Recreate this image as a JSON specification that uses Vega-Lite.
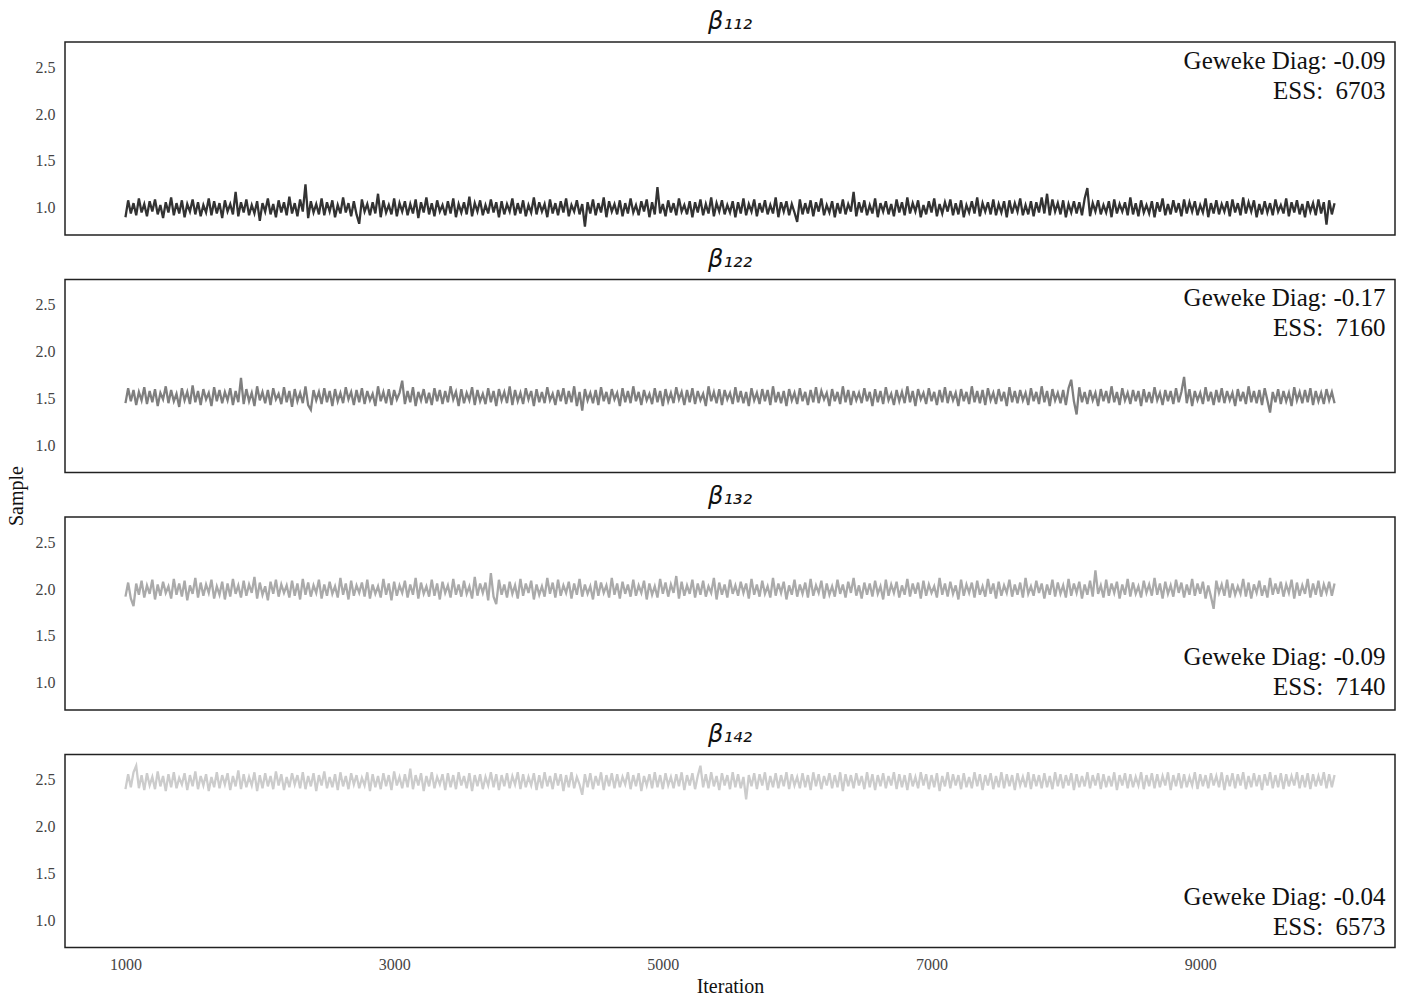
{
"$schema": "https://vega.github.io/schema/vega-lite/v6.json",
"padding": {"left": 5, "right": 8, "top": 9, "bottom": 2},
"background": "white",
"bounds": "flush",
"spacing": 44.5,
"config": {
  "view": {"stroke": "#222", "strokeWidth": 1.5},
  "font": "Liberation Serif",
  "axis": {"grid": false, "ticks": false, "domain": false, "labelFont": "Liberation Serif", "labelFontSize": 16, "labelColor": "#444", "titleFont": "Liberation Serif", "titleFontSize": 20, "titleFontWeight": "normal", "titleColor": "#111"},
  "title": {"font": "DejaVu Sans", "fontSize": 24, "fontStyle": "italic", "fontWeight": "normal", "color": "#111", "offset": 8}
},
"datasets": {
"ann": [
{"panel":1,"x":10380,"y":2.57,"label":"Geweke Diag: -0.09"},
{"panel":1,"x":10380,"y":2.25,"label":"ESS: \u00a06703"},
{"panel":2,"x":10380,"y":2.57,"label":"Geweke Diag: -0.17"},
{"panel":2,"x":10380,"y":2.25,"label":"ESS: \u00a07160"},
{"panel":3,"x":10380,"y":1.28,"label":"Geweke Diag: -0.09"},
{"panel":3,"x":10380,"y":0.96,"label":"ESS: \u00a07140"},
{"panel":4,"x":10380,"y":1.25,"label":"Geweke Diag: -0.04"},
{"panel":4,"x":10380,"y":0.93,"label":"ESS: \u00a06573"}
],
"trace": [
{"x":1000,"a":0.90,"b":1.45,"c":1.92,"d":2.40},
{"x":1020,"a":1.08,"b":1.61,"c":2.07,"d":2.56},
{"x":1040,"a":0.94,"b":1.47,"c":1.90,"d":2.42},
{"x":1060,"a":1.05,"b":1.59,"c":1.82,"d":2.58},
{"x":1080,"a":0.92,"b":1.43,"c":2.06,"d":2.65},
{"x":1100,"a":1.10,"b":1.57,"c":1.94,"d":2.41},
{"x":1120,"a":0.95,"b":1.48,"c":2.09,"d":2.55},
{"x":1140,"a":1.04,"b":1.62,"c":1.91,"d":2.39},
{"x":1160,"a":0.91,"b":1.44,"c":2.04,"d":2.57},
{"x":1180,"a":1.07,"b":1.58,"c":1.95,"d":2.44},
{"x":1200,"a":0.96,"b":1.46,"c":2.10,"d":2.53},
{"x":1220,"a":1.09,"b":1.60,"c":1.89,"d":2.40},
{"x":1240,"a":0.93,"b":1.42,"c":2.05,"d":2.59},
{"x":1260,"a":1.03,"b":1.56,"c":1.93,"d":2.43},
{"x":1280,"a":0.89,"b":1.49,"c":2.08,"d":2.54},
{"x":1300,"a":1.06,"b":1.63,"c":1.96,"d":2.38},
{"x":1320,"a":0.95,"b":1.45,"c":2.03,"d":2.56},
{"x":1340,"a":1.11,"b":1.59,"c":1.90,"d":2.42},
{"x":1360,"a":0.92,"b":1.47,"c":2.11,"d":2.58},
{"x":1380,"a":1.05,"b":1.55,"c":1.94,"d":2.41},
{"x":1400,"a":0.94,"b":1.41,"c":2.06,"d":2.52},
{"x":1420,"a":1.08,"b":1.61,"c":1.92,"d":2.45},
{"x":1440,"a":0.90,"b":1.48,"c":2.09,"d":2.57},
{"x":1460,"a":1.04,"b":1.57,"c":1.88,"d":2.39},
{"x":1480,"a":0.96,"b":1.44,"c":2.04,"d":2.55},
{"x":1500,"a":1.09,"b":1.64,"c":1.95,"d":2.43},
{"x":1520,"a":0.93,"b":1.46,"c":2.12,"d":2.59},
{"x":1540,"a":1.06,"b":1.58,"c":1.91,"d":2.40},
{"x":1560,"a":0.91,"b":1.43,"c":2.07,"d":2.54},
{"x":1580,"a":1.03,"b":1.60,"c":1.93,"d":2.44},
{"x":1600,"a":0.95,"b":1.49,"c":2.05,"d":2.56},
{"x":1620,"a":1.10,"b":1.56,"c":1.96,"d":2.38},
{"x":1640,"a":0.92,"b":1.42,"c":2.10,"d":2.53},
{"x":1660,"a":1.07,"b":1.62,"c":1.90,"d":2.42},
{"x":1680,"a":0.94,"b":1.47,"c":2.03,"d":2.58},
{"x":1700,"a":1.05,"b":1.59,"c":1.94,"d":2.41},
{"x":1720,"a":0.89,"b":1.45,"c":2.08,"d":2.55},
{"x":1740,"a":1.08,"b":1.57,"c":1.89,"d":2.45},
{"x":1760,"a":0.96,"b":1.48,"c":2.06,"d":2.57},
{"x":1780,"a":1.04,"b":1.61,"c":1.92,"d":2.39},
{"x":1800,"a":0.93,"b":1.43,"c":2.11,"d":2.54},
{"x":1820,"a":1.17,"b":1.58,"c":1.95,"d":2.43},
{"x":1840,"a":0.91,"b":1.46,"c":2.04,"d":2.60},
{"x":1860,"a":1.06,"b":1.72,"c":1.91,"d":2.40},
{"x":1880,"a":0.95,"b":1.44,"c":2.09,"d":2.56},
{"x":1900,"a":1.09,"b":1.60,"c":1.93,"d":2.42},
{"x":1920,"a":0.92,"b":1.47,"c":2.05,"d":2.53},
{"x":1940,"a":1.03,"b":1.56,"c":1.96,"d":2.44},
{"x":1960,"a":0.94,"b":1.42,"c":2.13,"d":2.58},
{"x":1980,"a":1.07,"b":1.63,"c":1.90,"d":2.38},
{"x":2000,"a":0.86,"b":1.48,"c":2.07,"d":2.55},
{"x":2020,"a":1.05,"b":1.57,"c":1.94,"d":2.41},
{"x":2040,"a":0.96,"b":1.45,"c":2.03,"d":2.57},
{"x":2060,"a":1.10,"b":1.59,"c":1.88,"d":2.43},
{"x":2080,"a":0.93,"b":1.43,"c":2.08,"d":2.54},
{"x":2100,"a":1.04,"b":1.61,"c":1.95,"d":2.40},
{"x":2120,"a":0.90,"b":1.49,"c":2.10,"d":2.59},
{"x":2140,"a":1.08,"b":1.55,"c":1.92,"d":2.44},
{"x":2160,"a":0.95,"b":1.44,"c":2.05,"d":2.56},
{"x":2180,"a":1.06,"b":1.62,"c":1.96,"d":2.39},
{"x":2200,"a":0.92,"b":1.46,"c":2.04,"d":2.53},
{"x":2220,"a":1.12,"b":1.58,"c":1.91,"d":2.42},
{"x":2240,"a":0.94,"b":1.41,"c":2.09,"d":2.57},
{"x":2260,"a":1.05,"b":1.60,"c":1.93,"d":2.45},
{"x":2280,"a":0.91,"b":1.47,"c":2.06,"d":2.55},
{"x":2300,"a":1.09,"b":1.56,"c":1.89,"d":2.41},
{"x":2320,"a":0.96,"b":1.45,"c":2.11,"d":2.58},
{"x":2340,"a":1.25,"b":1.63,"c":1.94,"d":2.40},
{"x":2360,"a":0.89,"b":1.43,"c":2.07,"d":2.54},
{"x":2380,"a":1.07,"b":1.38,"c":1.92,"d":2.43},
{"x":2400,"a":0.95,"b":1.59,"c":2.04,"d":2.57},
{"x":2420,"a":1.04,"b":1.48,"c":1.96,"d":2.38},
{"x":2440,"a":0.93,"b":1.57,"c":2.10,"d":2.55},
{"x":2460,"a":1.10,"b":1.44,"c":1.90,"d":2.44},
{"x":2480,"a":0.92,"b":1.61,"c":2.05,"d":2.59},
{"x":2500,"a":1.06,"b":1.46,"c":1.93,"d":2.41},
{"x":2520,"a":0.96,"b":1.58,"c":2.08,"d":2.53},
{"x":2540,"a":1.08,"b":1.42,"c":1.95,"d":2.42},
{"x":2560,"a":0.90,"b":1.60,"c":2.03,"d":2.56},
{"x":2580,"a":1.03,"b":1.47,"c":1.91,"d":2.39},
{"x":2600,"a":0.94,"b":1.56,"c":2.12,"d":2.58},
{"x":2620,"a":1.11,"b":1.45,"c":1.94,"d":2.43},
{"x":2640,"a":0.95,"b":1.62,"c":2.06,"d":2.54},
{"x":2660,"a":1.05,"b":1.49,"c":1.89,"d":2.40},
{"x":2680,"a":0.91,"b":1.57,"c":2.09,"d":2.57},
{"x":2700,"a":1.07,"b":1.43,"c":1.93,"d":2.45},
{"x":2720,"a":0.93,"b":1.59,"c":2.04,"d":2.55},
{"x":2740,"a":0.83,"b":1.46,"c":1.96,"d":2.41},
{"x":2760,"a":1.09,"b":1.61,"c":2.07,"d":2.52},
{"x":2780,"a":0.96,"b":1.44,"c":1.92,"d":2.44},
{"x":2800,"a":1.04,"b":1.58,"c":2.10,"d":2.58},
{"x":2820,"a":0.92,"b":1.48,"c":1.90,"d":2.38},
{"x":2840,"a":1.06,"b":1.55,"c":2.05,"d":2.56},
{"x":2860,"a":0.94,"b":1.42,"c":1.95,"d":2.42},
{"x":2880,"a":1.15,"b":1.63,"c":2.03,"d":2.54},
{"x":2900,"a":0.90,"b":1.47,"c":1.91,"d":2.40},
{"x":2920,"a":1.08,"b":1.57,"c":2.11,"d":2.57},
{"x":2940,"a":0.95,"b":1.45,"c":1.94,"d":2.43},
{"x":2960,"a":1.03,"b":1.60,"c":2.06,"d":2.55},
{"x":2980,"a":0.93,"b":1.43,"c":1.88,"d":2.39},
{"x":3000,"a":1.10,"b":1.59,"c":2.08,"d":2.59},
{"x":3020,"a":0.91,"b":1.49,"c":1.93,"d":2.44},
{"x":3040,"a":1.05,"b":1.56,"c":2.04,"d":2.53},
{"x":3060,"a":0.96,"b":1.69,"c":1.96,"d":2.41},
{"x":3080,"a":1.07,"b":1.44,"c":2.09,"d":2.56},
{"x":3100,"a":0.92,"b":1.58,"c":1.91,"d":2.42},
{"x":3120,"a":1.04,"b":1.46,"c":2.05,"d":2.62},
{"x":3140,"a":0.94,"b":1.62,"c":1.94,"d":2.40},
{"x":3160,"a":1.09,"b":1.42,"c":2.12,"d":2.55},
{"x":3180,"a":0.89,"b":1.57,"c":1.90,"d":2.44},
{"x":3200,"a":1.06,"b":1.48,"c":2.07,"d":2.57},
{"x":3220,"a":0.95,"b":1.60,"c":1.95,"d":2.38},
{"x":3240,"a":1.11,"b":1.45,"c":2.03,"d":2.54},
{"x":3260,"a":0.93,"b":1.56,"c":1.92,"d":2.43},
{"x":3280,"a":1.05,"b":1.43,"c":2.10,"d":2.58},
{"x":3300,"a":0.91,"b":1.61,"c":1.93,"d":2.41},
{"x":3320,"a":1.08,"b":1.47,"c":2.06,"d":2.53},
{"x":3340,"a":0.96,"b":1.59,"c":1.89,"d":2.45},
{"x":3360,"a":1.03,"b":1.44,"c":2.08,"d":2.56},
{"x":3380,"a":0.92,"b":1.58,"c":1.96,"d":2.39},
{"x":3400,"a":1.07,"b":1.46,"c":2.04,"d":2.57},
{"x":3420,"a":0.94,"b":1.63,"c":1.91,"d":2.42},
{"x":3440,"a":1.10,"b":1.49,"c":2.11,"d":2.55},
{"x":3460,"a":0.90,"b":1.57,"c":1.94,"d":2.40},
{"x":3480,"a":1.04,"b":1.42,"c":2.05,"d":2.58},
{"x":3500,"a":0.95,"b":1.60,"c":1.92,"d":2.44},
{"x":3520,"a":1.06,"b":1.45,"c":2.09,"d":2.54},
{"x":3540,"a":0.93,"b":1.56,"c":1.95,"d":2.41},
{"x":3560,"a":1.12,"b":1.48,"c":2.03,"d":2.57},
{"x":3580,"a":0.91,"b":1.62,"c":1.90,"d":2.38},
{"x":3600,"a":1.05,"b":1.43,"c":2.13,"d":2.55},
{"x":3620,"a":0.96,"b":1.59,"c":1.93,"d":2.43},
{"x":3640,"a":1.08,"b":1.47,"c":2.06,"d":2.56},
{"x":3660,"a":0.92,"b":1.55,"c":1.96,"d":2.40},
{"x":3680,"a":1.03,"b":1.44,"c":2.07,"d":2.53},
{"x":3700,"a":0.94,"b":1.61,"c":1.88,"d":2.44},
{"x":3720,"a":1.09,"b":1.46,"c":2.17,"d":2.58},
{"x":3740,"a":0.95,"b":1.58,"c":1.92,"d":2.42},
{"x":3760,"a":1.06,"b":1.42,"c":1.84,"d":2.56},
{"x":3780,"a":0.90,"b":1.60,"c":2.10,"d":2.39},
{"x":3800,"a":1.07,"b":1.48,"c":1.94,"d":2.55},
{"x":3820,"a":0.93,"b":1.57,"c":2.05,"d":2.43},
{"x":3840,"a":1.04,"b":1.45,"c":1.91,"d":2.57},
{"x":3860,"a":0.96,"b":1.63,"c":2.08,"d":2.41},
{"x":3880,"a":1.10,"b":1.43,"c":1.95,"d":2.54},
{"x":3900,"a":0.92,"b":1.59,"c":2.04,"d":2.45},
{"x":3920,"a":1.05,"b":1.47,"c":1.90,"d":2.58},
{"x":3940,"a":0.94,"b":1.56,"c":2.11,"d":2.40},
{"x":3960,"a":1.08,"b":1.44,"c":1.93,"d":2.56},
{"x":3980,"a":0.91,"b":1.61,"c":2.06,"d":2.42},
{"x":4000,"a":1.03,"b":1.49,"c":1.96,"d":2.53},
{"x":4020,"a":0.95,"b":1.58,"c":2.09,"d":2.44},
{"x":4040,"a":1.11,"b":1.42,"c":1.89,"d":2.57},
{"x":4060,"a":0.93,"b":1.60,"c":2.05,"d":2.39},
{"x":4080,"a":1.06,"b":1.46,"c":1.94,"d":2.55},
{"x":4100,"a":0.96,"b":1.57,"c":2.03,"d":2.41},
{"x":4120,"a":1.04,"b":1.45,"c":1.92,"d":2.58},
{"x":4140,"a":0.90,"b":1.62,"c":2.12,"d":2.43},
{"x":4160,"a":1.09,"b":1.48,"c":1.95,"d":2.54},
{"x":4180,"a":0.94,"b":1.55,"c":2.07,"d":2.40},
{"x":4200,"a":1.05,"b":1.43,"c":1.91,"d":2.57},
{"x":4220,"a":0.92,"b":1.59,"c":2.10,"d":2.44},
{"x":4240,"a":1.07,"b":1.47,"c":1.93,"d":2.56},
{"x":4260,"a":0.95,"b":1.61,"c":2.04,"d":2.38},
{"x":4280,"a":1.10,"b":1.44,"c":1.96,"d":2.55},
{"x":4300,"a":0.91,"b":1.58,"c":2.08,"d":2.42},
{"x":4320,"a":1.03,"b":1.46,"c":1.90,"d":2.58},
{"x":4340,"a":0.96,"b":1.63,"c":2.06,"d":2.41},
{"x":4360,"a":1.08,"b":1.42,"c":1.94,"d":2.53},
{"x":4380,"a":0.93,"b":1.57,"c":2.11,"d":2.45},
{"x":4400,"a":1.04,"b":1.37,"c":1.92,"d":2.34},
{"x":4420,"a":0.80,"b":1.60,"c":2.05,"d":2.56},
{"x":4440,"a":1.06,"b":1.48,"c":1.95,"d":2.42},
{"x":4460,"a":0.94,"b":1.56,"c":2.03,"d":2.57},
{"x":4480,"a":1.09,"b":1.45,"c":1.89,"d":2.40},
{"x":4500,"a":0.92,"b":1.59,"c":2.09,"d":2.54},
{"x":4520,"a":1.05,"b":1.43,"c":1.93,"d":2.44},
{"x":4540,"a":0.95,"b":1.62,"c":2.07,"d":2.58},
{"x":4560,"a":1.11,"b":1.47,"c":1.96,"d":2.39},
{"x":4580,"a":0.90,"b":1.57,"c":2.04,"d":2.55},
{"x":4600,"a":1.07,"b":1.44,"c":1.91,"d":2.43},
{"x":4620,"a":0.96,"b":1.60,"c":2.12,"d":2.57},
{"x":4640,"a":1.04,"b":1.49,"c":1.94,"d":2.41},
{"x":4660,"a":0.93,"b":1.56,"c":2.06,"d":2.56},
{"x":4680,"a":1.08,"b":1.42,"c":1.90,"d":2.42},
{"x":4700,"a":0.91,"b":1.61,"c":2.08,"d":2.53},
{"x":4720,"a":1.05,"b":1.46,"c":1.95,"d":2.45},
{"x":4740,"a":0.94,"b":1.58,"c":2.05,"d":2.58},
{"x":4760,"a":1.10,"b":1.45,"c":1.92,"d":2.40},
{"x":4780,"a":0.95,"b":1.63,"c":2.10,"d":2.55},
{"x":4800,"a":1.03,"b":1.47,"c":1.93,"d":2.43},
{"x":4820,"a":0.92,"b":1.57,"c":2.04,"d":2.57},
{"x":4840,"a":1.07,"b":1.43,"c":1.96,"d":2.38},
{"x":4860,"a":0.96,"b":1.59,"c":2.09,"d":2.54},
{"x":4880,"a":1.09,"b":1.48,"c":1.89,"d":2.44},
{"x":4900,"a":0.90,"b":1.55,"c":2.06,"d":2.56},
{"x":4920,"a":1.06,"b":1.44,"c":1.94,"d":2.41},
{"x":4940,"a":0.93,"b":1.61,"c":2.03,"d":2.58},
{"x":4960,"a":1.22,"b":1.46,"c":1.91,"d":2.42},
{"x":4980,"a":0.94,"b":1.58,"c":2.11,"d":2.55},
{"x":5000,"a":1.04,"b":1.42,"c":1.95,"d":2.40},
{"x":5020,"a":0.91,"b":1.60,"c":2.07,"d":2.57},
{"x":5040,"a":1.08,"b":1.47,"c":1.92,"d":2.44},
{"x":5060,"a":0.95,"b":1.56,"c":2.05,"d":2.53},
{"x":5080,"a":1.05,"b":1.45,"c":1.96,"d":2.41},
{"x":5100,"a":0.92,"b":1.62,"c":2.14,"d":2.56},
{"x":5120,"a":1.10,"b":1.49,"c":1.90,"d":2.43},
{"x":5140,"a":0.96,"b":1.57,"c":2.08,"d":2.58},
{"x":5160,"a":1.03,"b":1.43,"c":1.93,"d":2.39},
{"x":5180,"a":0.93,"b":1.59,"c":2.04,"d":2.55},
{"x":5200,"a":1.07,"b":1.46,"c":1.95,"d":2.44},
{"x":5220,"a":0.90,"b":1.61,"c":2.10,"d":2.57},
{"x":5240,"a":1.06,"b":1.44,"c":1.91,"d":2.40},
{"x":5260,"a":0.95,"b":1.58,"c":2.06,"d":2.54},
{"x":5280,"a":1.09,"b":1.48,"c":1.94,"d":2.65},
{"x":5300,"a":0.92,"b":1.55,"c":2.09,"d":2.42},
{"x":5320,"a":1.04,"b":1.42,"c":1.92,"d":2.56},
{"x":5340,"a":0.94,"b":1.63,"c":2.03,"d":2.41},
{"x":5360,"a":1.11,"b":1.47,"c":1.96,"d":2.58},
{"x":5380,"a":0.91,"b":1.57,"c":2.12,"d":2.43},
{"x":5400,"a":1.05,"b":1.45,"c":1.89,"d":2.54},
{"x":5420,"a":0.96,"b":1.60,"c":2.07,"d":2.39},
{"x":5440,"a":1.08,"b":1.43,"c":1.94,"d":2.57},
{"x":5460,"a":0.93,"b":1.59,"c":2.05,"d":2.44},
{"x":5480,"a":1.03,"b":1.49,"c":1.91,"d":2.55},
{"x":5500,"a":0.95,"b":1.56,"c":2.10,"d":2.40},
{"x":5520,"a":1.07,"b":1.44,"c":1.95,"d":2.58},
{"x":5540,"a":0.90,"b":1.62,"c":2.04,"d":2.42},
{"x":5560,"a":1.06,"b":1.46,"c":1.93,"d":2.56},
{"x":5580,"a":0.94,"b":1.58,"c":2.08,"d":2.41},
{"x":5600,"a":1.10,"b":1.45,"c":1.96,"d":2.53},
{"x":5620,"a":0.92,"b":1.57,"c":2.06,"d":2.29},
{"x":5640,"a":1.04,"b":1.42,"c":1.90,"d":2.55},
{"x":5660,"a":0.96,"b":1.61,"c":2.11,"d":2.43},
{"x":5680,"a":1.09,"b":1.48,"c":1.94,"d":2.57},
{"x":5700,"a":0.91,"b":1.56,"c":2.05,"d":2.40},
{"x":5720,"a":1.05,"b":1.44,"c":1.92,"d":2.56},
{"x":5740,"a":0.95,"b":1.60,"c":2.09,"d":2.44},
{"x":5760,"a":1.08,"b":1.47,"c":1.95,"d":2.58},
{"x":5780,"a":0.93,"b":1.59,"c":2.03,"d":2.39},
{"x":5800,"a":1.03,"b":1.43,"c":1.91,"d":2.54},
{"x":5820,"a":0.94,"b":1.63,"c":2.12,"d":2.42},
{"x":5840,"a":1.11,"b":1.46,"c":1.93,"d":2.57},
{"x":5860,"a":0.90,"b":1.57,"c":2.06,"d":2.41},
{"x":5880,"a":1.06,"b":1.45,"c":1.96,"d":2.55},
{"x":5900,"a":0.96,"b":1.58,"c":2.08,"d":2.43},
{"x":5920,"a":1.07,"b":1.42,"c":1.89,"d":2.58},
{"x":5940,"a":0.92,"b":1.60,"c":2.04,"d":2.40},
{"x":5960,"a":1.04,"b":1.48,"c":1.94,"d":2.56},
{"x":5980,"a":0.95,"b":1.56,"c":2.10,"d":2.44},
{"x":6000,"a":0.85,"b":1.44,"c":1.92,"d":2.53},
{"x":6020,"a":1.09,"b":1.61,"c":2.05,"d":2.41},
{"x":6040,"a":0.93,"b":1.47,"c":1.95,"d":2.57},
{"x":6060,"a":1.05,"b":1.57,"c":2.07,"d":2.42},
{"x":6080,"a":0.94,"b":1.43,"c":1.91,"d":2.55},
{"x":6100,"a":1.08,"b":1.59,"c":2.11,"d":2.39},
{"x":6120,"a":0.91,"b":1.46,"c":1.93,"d":2.58},
{"x":6140,"a":1.06,"b":1.62,"c":2.04,"d":2.43},
{"x":6160,"a":0.96,"b":1.45,"c":1.96,"d":2.56},
{"x":6180,"a":1.10,"b":1.58,"c":2.09,"d":2.40},
{"x":6200,"a":0.92,"b":1.49,"c":1.90,"d":2.54},
{"x":6220,"a":1.03,"b":1.56,"c":2.06,"d":2.44},
{"x":6240,"a":0.95,"b":1.42,"c":1.94,"d":2.57},
{"x":6260,"a":1.07,"b":1.60,"c":2.03,"d":2.41},
{"x":6280,"a":0.90,"b":1.47,"c":1.92,"d":2.55},
{"x":6300,"a":1.05,"b":1.57,"c":2.10,"d":2.42},
{"x":6320,"a":0.94,"b":1.44,"c":1.95,"d":2.58},
{"x":6340,"a":1.09,"b":1.63,"c":2.05,"d":2.38},
{"x":6360,"a":0.93,"b":1.46,"c":1.91,"d":2.56},
{"x":6380,"a":1.04,"b":1.59,"c":2.08,"d":2.43},
{"x":6400,"a":0.96,"b":1.43,"c":1.96,"d":2.55},
{"x":6420,"a":1.17,"b":1.58,"c":2.12,"d":2.41},
{"x":6440,"a":0.91,"b":1.48,"c":1.93,"d":2.57},
{"x":6460,"a":1.06,"b":1.56,"c":2.04,"d":2.44},
{"x":6480,"a":0.95,"b":1.45,"c":1.90,"d":2.54},
{"x":6500,"a":1.08,"b":1.61,"c":2.07,"d":2.40},
{"x":6520,"a":0.92,"b":1.47,"c":1.94,"d":2.58},
{"x":6540,"a":1.03,"b":1.57,"c":2.06,"d":2.42},
{"x":6560,"a":0.94,"b":1.42,"c":1.92,"d":2.56},
{"x":6580,"a":1.10,"b":1.60,"c":2.09,"d":2.39},
{"x":6600,"a":0.90,"b":1.46,"c":1.95,"d":2.55},
{"x":6620,"a":1.05,"b":1.58,"c":2.03,"d":2.43},
{"x":6640,"a":0.96,"b":1.44,"c":1.89,"d":2.57},
{"x":6660,"a":1.07,"b":1.62,"c":2.10,"d":2.41},
{"x":6680,"a":0.93,"b":1.48,"c":1.93,"d":2.54},
{"x":6700,"a":1.04,"b":1.55,"c":2.05,"d":2.44},
{"x":6720,"a":0.91,"b":1.43,"c":1.96,"d":2.58},
{"x":6740,"a":1.09,"b":1.59,"c":2.08,"d":2.40},
{"x":6760,"a":0.95,"b":1.47,"c":1.91,"d":2.56},
{"x":6780,"a":1.06,"b":1.57,"c":2.04,"d":2.42},
{"x":6800,"a":0.92,"b":1.45,"c":1.94,"d":2.55},
{"x":6820,"a":1.11,"b":1.63,"c":2.11,"d":2.39},
{"x":6840,"a":0.94,"b":1.46,"c":1.92,"d":2.57},
{"x":6860,"a":1.05,"b":1.58,"c":2.06,"d":2.43},
{"x":6880,"a":0.96,"b":1.42,"c":1.95,"d":2.53},
{"x":6900,"a":1.08,"b":1.60,"c":2.07,"d":2.41},
{"x":6920,"a":0.90,"b":1.49,"c":1.90,"d":2.58},
{"x":6940,"a":1.03,"b":1.56,"c":2.09,"d":2.44},
{"x":6960,"a":0.93,"b":1.44,"c":1.93,"d":2.56},
{"x":6980,"a":1.07,"b":1.61,"c":2.05,"d":2.40},
{"x":7000,"a":0.95,"b":1.47,"c":1.96,"d":2.55},
{"x":7020,"a":1.10,"b":1.57,"c":2.03,"d":2.42},
{"x":7040,"a":0.91,"b":1.43,"c":1.91,"d":2.57},
{"x":7060,"a":1.04,"b":1.59,"c":2.12,"d":2.38},
{"x":7080,"a":0.94,"b":1.46,"c":1.94,"d":2.54},
{"x":7100,"a":1.06,"b":1.62,"c":2.06,"d":2.43},
{"x":7120,"a":0.96,"b":1.45,"c":1.92,"d":2.58},
{"x":7140,"a":1.09,"b":1.58,"c":2.08,"d":2.41},
{"x":7160,"a":0.92,"b":1.48,"c":1.95,"d":2.56},
{"x":7180,"a":1.05,"b":1.56,"c":2.04,"d":2.44},
{"x":7200,"a":0.93,"b":1.42,"c":1.89,"d":2.55},
{"x":7220,"a":1.08,"b":1.60,"c":2.10,"d":2.40},
{"x":7240,"a":0.90,"b":1.47,"c":1.93,"d":2.57},
{"x":7260,"a":1.03,"b":1.57,"c":2.05,"d":2.42},
{"x":7280,"a":0.95,"b":1.44,"c":1.96,"d":2.53},
{"x":7300,"a":1.07,"b":1.63,"c":2.07,"d":2.41},
{"x":7320,"a":0.94,"b":1.46,"c":1.91,"d":2.58},
{"x":7340,"a":1.11,"b":1.58,"c":2.09,"d":2.43},
{"x":7360,"a":0.91,"b":1.45,"c":1.94,"d":2.56},
{"x":7380,"a":1.05,"b":1.59,"c":2.03,"d":2.39},
{"x":7400,"a":0.96,"b":1.43,"c":1.92,"d":2.55},
{"x":7420,"a":1.06,"b":1.61,"c":2.11,"d":2.44},
{"x":7440,"a":0.93,"b":1.48,"c":1.95,"d":2.57},
{"x":7460,"a":1.09,"b":1.56,"c":2.06,"d":2.40},
{"x":7480,"a":0.92,"b":1.44,"c":1.90,"d":2.54},
{"x":7500,"a":1.04,"b":1.60,"c":2.08,"d":2.42},
{"x":7520,"a":0.95,"b":1.47,"c":1.93,"d":2.58},
{"x":7540,"a":1.07,"b":1.57,"c":2.04,"d":2.41},
{"x":7560,"a":0.90,"b":1.42,"c":1.96,"d":2.56},
{"x":7580,"a":1.08,"b":1.62,"c":2.10,"d":2.43},
{"x":7600,"a":0.94,"b":1.46,"c":1.92,"d":2.55},
{"x":7620,"a":1.05,"b":1.58,"c":2.05,"d":2.39},
{"x":7640,"a":0.96,"b":1.45,"c":1.94,"d":2.57},
{"x":7660,"a":1.10,"b":1.59,"c":2.07,"d":2.44},
{"x":7680,"a":0.92,"b":1.48,"c":1.91,"d":2.53},
{"x":7700,"a":1.03,"b":1.56,"c":2.12,"d":2.42},
{"x":7720,"a":0.93,"b":1.43,"c":1.95,"d":2.58},
{"x":7740,"a":1.07,"b":1.61,"c":2.03,"d":2.40},
{"x":7760,"a":0.91,"b":1.47,"c":1.93,"d":2.56},
{"x":7780,"a":1.06,"b":1.57,"c":2.09,"d":2.43},
{"x":7800,"a":0.95,"b":1.44,"c":1.96,"d":2.55},
{"x":7820,"a":1.11,"b":1.63,"c":2.06,"d":2.41},
{"x":7840,"a":0.94,"b":1.46,"c":1.90,"d":2.57},
{"x":7860,"a":1.15,"b":1.58,"c":2.05,"d":2.42},
{"x":7880,"a":0.92,"b":1.42,"c":1.94,"d":2.54},
{"x":7900,"a":1.09,"b":1.60,"c":2.10,"d":2.40},
{"x":7920,"a":0.96,"b":1.48,"c":1.92,"d":2.58},
{"x":7940,"a":1.05,"b":1.56,"c":2.07,"d":2.43},
{"x":7960,"a":0.93,"b":1.45,"c":1.95,"d":2.56},
{"x":7980,"a":1.08,"b":1.59,"c":2.04,"d":2.41},
{"x":8000,"a":0.90,"b":1.43,"c":1.91,"d":2.55},
{"x":8020,"a":1.04,"b":1.61,"c":2.11,"d":2.44},
{"x":8040,"a":0.95,"b":1.70,"c":1.93,"d":2.57},
{"x":8060,"a":1.07,"b":1.47,"c":2.06,"d":2.39},
{"x":8080,"a":0.94,"b":1.33,"c":1.96,"d":2.56},
{"x":8100,"a":1.06,"b":1.62,"c":2.08,"d":2.42},
{"x":8120,"a":0.92,"b":1.46,"c":1.90,"d":2.54},
{"x":8140,"a":1.10,"b":1.57,"c":2.05,"d":2.43},
{"x":8160,"a":1.21,"b":1.44,"c":1.94,"d":2.58},
{"x":8180,"a":0.91,"b":1.59,"c":2.09,"d":2.41},
{"x":8200,"a":1.05,"b":1.48,"c":1.92,"d":2.55},
{"x":8220,"a":0.96,"b":1.56,"c":2.20,"d":2.44},
{"x":8240,"a":1.08,"b":1.42,"c":1.95,"d":2.57},
{"x":8260,"a":0.93,"b":1.60,"c":2.04,"d":2.40},
{"x":8280,"a":1.03,"b":1.47,"c":1.91,"d":2.56},
{"x":8300,"a":0.95,"b":1.58,"c":2.10,"d":2.42},
{"x":8320,"a":1.07,"b":1.45,"c":1.93,"d":2.54},
{"x":8340,"a":0.90,"b":1.63,"c":2.06,"d":2.43},
{"x":8360,"a":1.09,"b":1.46,"c":1.96,"d":2.58},
{"x":8380,"a":0.94,"b":1.57,"c":2.08,"d":2.39},
{"x":8400,"a":1.04,"b":1.43,"c":1.90,"d":2.55},
{"x":8420,"a":0.96,"b":1.61,"c":2.05,"d":2.44},
{"x":8440,"a":1.06,"b":1.48,"c":1.94,"d":2.57},
{"x":8460,"a":0.92,"b":1.56,"c":2.11,"d":2.41},
{"x":8480,"a":1.11,"b":1.44,"c":1.92,"d":2.56},
{"x":8500,"a":0.93,"b":1.59,"c":2.07,"d":2.42},
{"x":8520,"a":1.05,"b":1.47,"c":1.95,"d":2.53},
{"x":8540,"a":0.91,"b":1.58,"c":2.03,"d":2.44},
{"x":8560,"a":1.08,"b":1.42,"c":1.91,"d":2.58},
{"x":8580,"a":0.95,"b":1.60,"c":2.09,"d":2.40},
{"x":8600,"a":1.03,"b":1.46,"c":1.96,"d":2.55},
{"x":8620,"a":0.94,"b":1.57,"c":2.05,"d":2.43},
{"x":8640,"a":1.07,"b":1.45,"c":1.93,"d":2.57},
{"x":8660,"a":0.90,"b":1.62,"c":2.12,"d":2.41},
{"x":8680,"a":1.06,"b":1.48,"c":1.94,"d":2.56},
{"x":8700,"a":0.96,"b":1.56,"c":2.06,"d":2.42},
{"x":8720,"a":1.10,"b":1.43,"c":1.90,"d":2.54},
{"x":8740,"a":0.92,"b":1.59,"c":2.08,"d":2.44},
{"x":8760,"a":1.04,"b":1.47,"c":1.95,"d":2.58},
{"x":8780,"a":0.93,"b":1.58,"c":2.04,"d":2.39},
{"x":8800,"a":1.08,"b":1.44,"c":1.92,"d":2.55},
{"x":8820,"a":0.95,"b":1.61,"c":2.10,"d":2.43},
{"x":8840,"a":1.05,"b":1.46,"c":1.96,"d":2.57},
{"x":8860,"a":0.91,"b":1.57,"c":2.07,"d":2.41},
{"x":8880,"a":1.09,"b":1.73,"c":1.91,"d":2.56},
{"x":8900,"a":0.94,"b":1.45,"c":2.05,"d":2.42},
{"x":8920,"a":1.06,"b":1.60,"c":1.94,"d":2.53},
{"x":8940,"a":0.96,"b":1.42,"c":2.11,"d":2.44},
{"x":8960,"a":1.07,"b":1.58,"c":1.93,"d":2.58},
{"x":8980,"a":0.92,"b":1.48,"c":2.06,"d":2.40},
{"x":9000,"a":1.03,"b":1.56,"c":1.95,"d":2.56},
{"x":9020,"a":0.95,"b":1.44,"c":2.08,"d":2.43},
{"x":9040,"a":1.10,"b":1.62,"c":1.90,"d":2.55},
{"x":9060,"a":0.90,"b":1.47,"c":2.04,"d":2.41},
{"x":9080,"a":1.05,"b":1.57,"c":1.92,"d":2.57},
{"x":9100,"a":0.94,"b":1.43,"c":1.79,"d":2.44},
{"x":9120,"a":1.08,"b":1.59,"c":2.09,"d":2.54},
{"x":9140,"a":0.93,"b":1.46,"c":1.96,"d":2.42},
{"x":9160,"a":1.04,"b":1.61,"c":2.05,"d":2.58},
{"x":9180,"a":0.96,"b":1.45,"c":1.93,"d":2.39},
{"x":9200,"a":1.07,"b":1.58,"c":2.10,"d":2.55},
{"x":9220,"a":0.91,"b":1.48,"c":1.91,"d":2.43},
{"x":9240,"a":1.09,"b":1.56,"c":2.06,"d":2.57},
{"x":9260,"a":0.95,"b":1.42,"c":1.94,"d":2.41},
{"x":9280,"a":1.05,"b":1.60,"c":2.03,"d":2.56},
{"x":9300,"a":0.92,"b":1.47,"c":1.95,"d":2.44},
{"x":9320,"a":1.11,"b":1.57,"c":2.11,"d":2.58},
{"x":9340,"a":0.94,"b":1.44,"c":1.92,"d":2.40},
{"x":9360,"a":1.06,"b":1.63,"c":2.07,"d":2.54},
{"x":9380,"a":0.96,"b":1.46,"c":1.90,"d":2.42},
{"x":9400,"a":1.08,"b":1.58,"c":2.05,"d":2.57},
{"x":9420,"a":0.90,"b":1.45,"c":1.96,"d":2.43},
{"x":9440,"a":1.04,"b":1.59,"c":2.09,"d":2.55},
{"x":9460,"a":0.93,"b":1.43,"c":1.93,"d":2.39},
{"x":9480,"a":1.07,"b":1.61,"c":2.04,"d":2.56},
{"x":9500,"a":0.95,"b":1.48,"c":1.91,"d":2.44},
{"x":9520,"a":1.05,"b":1.35,"c":2.12,"d":2.58},
{"x":9540,"a":0.92,"b":1.57,"c":1.94,"d":2.41},
{"x":9560,"a":1.09,"b":1.46,"c":2.06,"d":2.55},
{"x":9580,"a":0.96,"b":1.60,"c":1.95,"d":2.42},
{"x":9600,"a":1.03,"b":1.44,"c":2.08,"d":2.57},
{"x":9620,"a":0.94,"b":1.58,"c":1.92,"d":2.40},
{"x":9640,"a":1.10,"b":1.47,"c":2.05,"d":2.56},
{"x":9660,"a":0.91,"b":1.56,"c":1.96,"d":2.43},
{"x":9680,"a":1.06,"b":1.42,"c":2.10,"d":2.54},
{"x":9700,"a":0.95,"b":1.62,"c":1.90,"d":2.44},
{"x":9720,"a":1.08,"b":1.48,"c":2.07,"d":2.58},
{"x":9740,"a":0.93,"b":1.57,"c":1.93,"d":2.41},
{"x":9760,"a":1.04,"b":1.45,"c":2.04,"d":2.55},
{"x":9780,"a":0.90,"b":1.59,"c":1.95,"d":2.42},
{"x":9800,"a":1.07,"b":1.46,"c":2.11,"d":2.57},
{"x":9820,"a":0.96,"b":1.61,"c":1.91,"d":2.40},
{"x":9840,"a":1.05,"b":1.43,"c":2.06,"d":2.56},
{"x":9860,"a":0.92,"b":1.58,"c":1.94,"d":2.43},
{"x":9880,"a":1.09,"b":1.47,"c":2.09,"d":2.54},
{"x":9900,"a":0.94,"b":1.56,"c":1.92,"d":2.44},
{"x":9920,"a":1.06,"b":1.44,"c":2.05,"d":2.58},
{"x":9940,"a":0.82,"b":1.60,"c":1.96,"d":2.41},
{"x":9960,"a":1.08,"b":1.48,"c":2.08,"d":2.56},
{"x":9980,"a":0.93,"b":1.57,"c":1.93,"d":2.42},
{"x":10000,"a":1.05,"b":1.45,"c":2.06,"d":2.55}
]
},
"vconcat": [
{
 "width": 1330, "height": 193, "title": "β₁₁₂",
 "layer": [
  {"data": {"name": "trace"}, "mark": {"type": "line", "color": "#333333", "strokeWidth": 2.3},
   "encoding": {"x": {"field": "x", "type": "quantitative", "scale": {"domain": [550, 10450], "nice": false, "zero": false}, "axis": null},
     "y": {"field": "a", "type": "quantitative", "scale": {"domain": [0.71, 2.77], "nice": false, "zero": false}, "axis": {"values": [1.0, 1.5, 2.0, 2.5], "format": ".1f", "title": null, "labelPadding": 10}}}},
  {"data": {"name": "ann"}, "transform": [{"filter": "datum.panel == 1"}], "mark": {"type": "text", "align": "right", "baseline": "middle", "fontSize": 25, "font": "Liberation Serif", "color": "#111"},
   "encoding": {"x": {"field": "x", "type": "quantitative", "axis": null}, "y": {"field": "y", "type": "quantitative", "axis": {"values": [1.0, 1.5, 2.0, 2.5], "format": ".1f", "title": null, "labelPadding": 10}}, "text": {"field": "label"}}}
 ]
},
{
 "width": 1330, "height": 193, "title": "β₁₂₂",
 "layer": [
  {"data": {"name": "trace"}, "mark": {"type": "line", "color": "#7f7f7f", "strokeWidth": 2.3},
   "encoding": {"x": {"field": "x", "type": "quantitative", "scale": {"domain": [550, 10450], "nice": false, "zero": false}, "axis": null},
     "y": {"field": "b", "type": "quantitative", "scale": {"domain": [0.71, 2.77], "nice": false, "zero": false}, "axis": {"values": [1.0, 1.5, 2.0, 2.5], "format": ".1f", "title": "Sample", "labelPadding": 10, "titlePadding": 9, "titleY": 216}}}},
  {"data": {"name": "ann"}, "transform": [{"filter": "datum.panel == 2"}], "mark": {"type": "text", "align": "right", "baseline": "middle", "fontSize": 25, "font": "Liberation Serif", "color": "#111"},
   "encoding": {"x": {"field": "x", "type": "quantitative", "axis": null}, "y": {"field": "y", "type": "quantitative", "axis": {"values": [1.0, 1.5, 2.0, 2.5], "format": ".1f", "title": "Sample", "labelPadding": 10, "titlePadding": 9, "titleY": 216}}, "text": {"field": "label"}}}
 ]
},
{
 "width": 1330, "height": 193, "title": "β₁₃₂",
 "layer": [
  {"data": {"name": "trace"}, "mark": {"type": "line", "color": "#aaaaaa", "strokeWidth": 2.3},
   "encoding": {"x": {"field": "x", "type": "quantitative", "scale": {"domain": [550, 10450], "nice": false, "zero": false}, "axis": null},
     "y": {"field": "c", "type": "quantitative", "scale": {"domain": [0.71, 2.77], "nice": false, "zero": false}, "axis": {"values": [1.0, 1.5, 2.0, 2.5], "format": ".1f", "title": null, "labelPadding": 10}}}},
  {"data": {"name": "ann"}, "transform": [{"filter": "datum.panel == 3"}], "mark": {"type": "text", "align": "right", "baseline": "middle", "fontSize": 25, "font": "Liberation Serif", "color": "#111"},
   "encoding": {"x": {"field": "x", "type": "quantitative", "axis": null}, "y": {"field": "y", "type": "quantitative", "axis": {"values": [1.0, 1.5, 2.0, 2.5], "format": ".1f", "title": null, "labelPadding": 10}}, "text": {"field": "label"}}}
 ]
},
{
 "width": 1330, "height": 193, "title": "β₁₄₂",
 "layer": [
  {"data": {"name": "trace"}, "mark": {"type": "line", "color": "#cccccc", "strokeWidth": 2.3},
   "encoding": {"x": {"field": "x", "type": "quantitative", "scale": {"domain": [550, 10450], "nice": false, "zero": false}, "axis": {"values": [1000, 3000, 5000, 7000, 9000], "format": "d", "title": "Iteration", "labelPadding": 9, "titlePadding": 4}},
     "y": {"field": "d", "type": "quantitative", "scale": {"domain": [0.71, 2.77], "nice": false, "zero": false}, "axis": {"values": [1.0, 1.5, 2.0, 2.5], "format": ".1f", "title": null, "labelPadding": 10}}}},
  {"data": {"name": "ann"}, "transform": [{"filter": "datum.panel == 4"}], "mark": {"type": "text", "align": "right", "baseline": "middle", "fontSize": 25, "font": "Liberation Serif", "color": "#111"},
   "encoding": {"x": {"field": "x", "type": "quantitative", "axis": {"values": [1000, 3000, 5000, 7000, 9000], "format": "d", "title": "Iteration", "labelPadding": 9, "titlePadding": 4}}, "y": {"field": "y", "type": "quantitative", "axis": {"values": [1.0, 1.5, 2.0, 2.5], "format": ".1f", "title": null, "labelPadding": 10}}, "text": {"field": "label"}}}
 ]
}
]
}
